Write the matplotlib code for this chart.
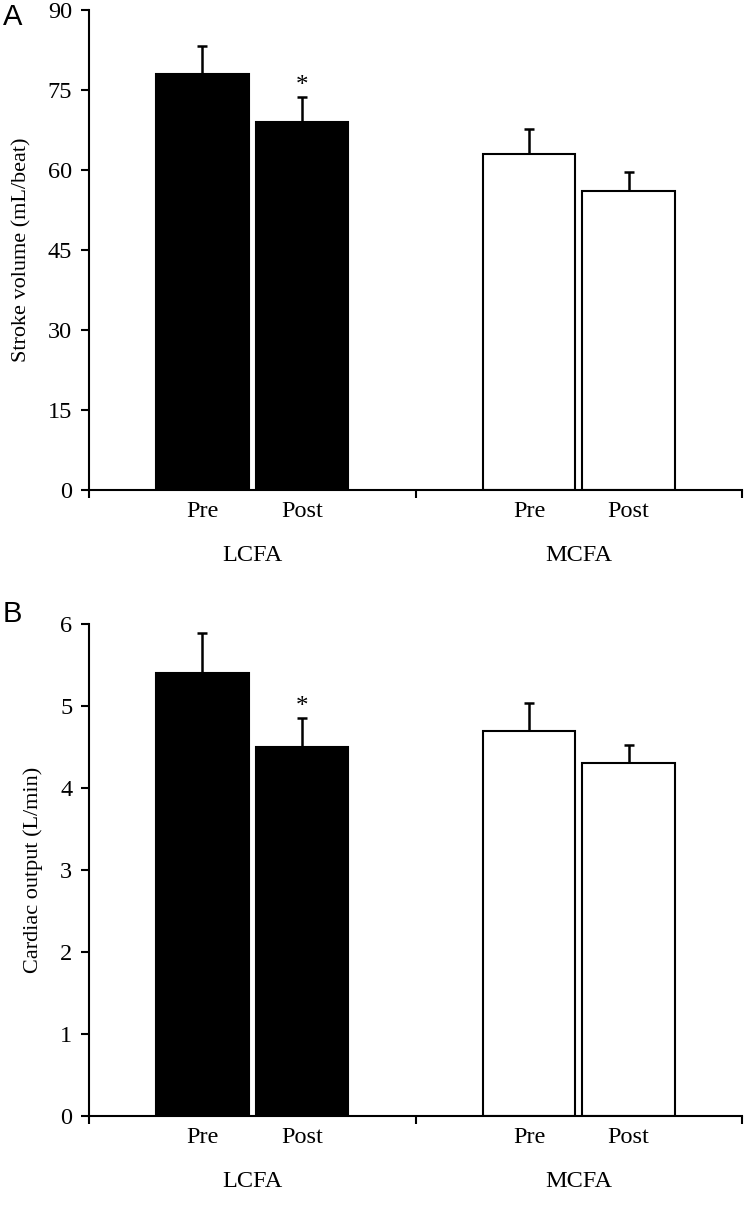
import numpy as np
import matplotlib
matplotlib.use("Agg")
import matplotlib.pyplot as plt

plt.rcParams["font.family"] = ["Liberation Serif", "DejaVu Serif"]

groups = ["LCFA", "MCFA"]
times = ["Pre", "Post"]

# panel A: stroke volume (mL/beat)
sv_pre = [78, 63]
sv_post = [69, 56]
sv_pre_err = [5.2, 4.7]
sv_post_err = [4.6, 3.6]

# panel B: cardiac output (L/min)
co_pre = [5.4, 4.7]
co_post = [4.5, 4.3]
co_pre_err = [0.49, 0.34]
co_post_err = [0.35, 0.23]

# which (group, time) gets the asterisk
sig = [("LCFA", "Post")]

bar_colors = ["black", "white"]
bar_w = 0.283
shift = 0.1525
fs = 17.5


def draw_panel(ax, pre, post, pre_err, post_err, ymax, ystep, ylabel, letter, letter_dy):
    centers = np.arange(len(groups)) + 0.5
    x_pre = centers - shift
    x_post = centers + shift
    ax.bar(x_pre, pre, width=bar_w, color=bar_colors, edgecolor="black", linewidth=1.5, zorder=2)
    ax.bar(x_post, post, width=bar_w, color=bar_colors, edgecolor="black", linewidth=1.5, zorder=2)
    ax.errorbar(x_pre, pre, yerr=[np.zeros(len(pre)), pre_err], fmt="none",
                ecolor="black", elinewidth=1.8, capsize=3.5, capthick=1.8, zorder=1)
    ax.errorbar(x_post, post, yerr=[np.zeros(len(post)), post_err], fmt="none",
                ecolor="black", elinewidth=1.8, capsize=3.5, capthick=1.8, zorder=1)

    for gi, g in enumerate(groups):
        for ti, t in enumerate(times):
            if (g, t) in sig:
                xs = x_pre if t == "Pre" else x_post
                vals = pre if t == "Pre" else post
                errs = pre_err if t == "Pre" else post_err
                ax.annotate("*", xy=(xs[gi], vals[gi] + errs[gi]), xytext=(0, 0),
                            textcoords="offset points", ha="center", va="bottom", fontsize=18)

    ax.set_xlim(0, len(groups))
    ax.set_ylim(0, ymax)
    ax.set_yticks(np.arange(0, ymax + ystep / 2, ystep))
    ax.set_xticks(np.arange(len(groups) + 1))
    ax.set_xticklabels([])
    ax.set_xticks(np.sort(np.concatenate([x_pre, x_post])), minor=True)
    ax.set_xticklabels(times * len(groups), minor=True)
    ax.tick_params(axis="x", which="minor", length=0, pad=8, labelsize=fs)
    ax.tick_params(axis="x", which="major", length=6, width=1.5, direction="out")
    ax.tick_params(axis="y", length=6, width=1.5, direction="out", labelsize=fs, pad=6)

    for gi, g in enumerate(groups):
        ax.annotate(g, xy=(centers[gi], 0), xycoords=("data", "axes fraction"),
                    xytext=(0, -47), textcoords="offset points",
                    ha="center", va="center", fontsize=fs)

    ax.spines["top"].set_visible(False)
    ax.spines["right"].set_visible(False)
    ax.spines["left"].set_linewidth(1.5)
    ax.spines["bottom"].set_linewidth(1.5)
    ax.set_ylabel(ylabel, fontsize=16, labelpad=12)
    ax.annotate(letter, xy=(0, 1), xycoords="axes fraction", xytext=(-55, letter_dy),
                textcoords="offset points", fontsize=21,
                family=["Liberation Sans", "DejaVu Sans"], ha="center", va="center")


fig = plt.figure(figsize=(7.5, 12.21), dpi=100)
ax_a = fig.add_axes([0.1187, 0.5987, 0.8707, 0.3931])
ax_b = fig.add_axes([0.1187, 0.0860, 0.8707, 0.4029])

draw_panel(ax_a, sv_pre, sv_post, sv_pre_err, sv_post_err, 90, 15,
           "Stroke volume (mL/beat)", "A", -5)
draw_panel(ax_b, co_pre, co_post, co_pre_err, co_post_err, 6, 1,
           "Cardiac output (L/min)", "B", 7)

fig.savefig("out.png", dpi=100)
